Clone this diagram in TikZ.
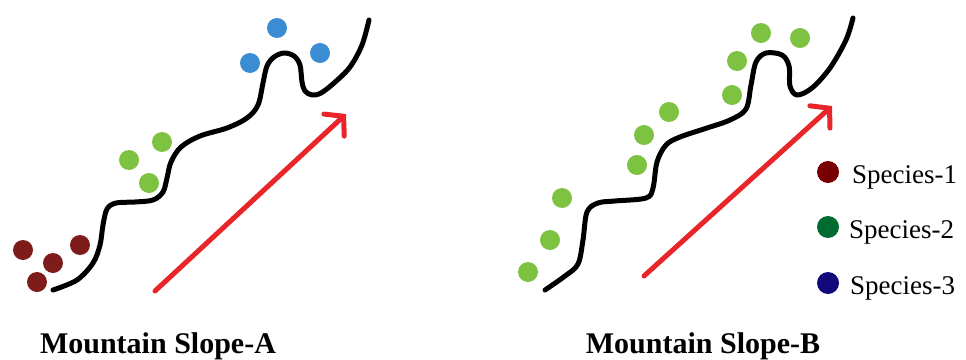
\documentclass[tikz,border=0pt]{standalone}
\usepackage{fontspec}
\setmainfont{Liberation Serif}
\usetikzlibrary{arrows.meta}
\definecolor{sp1}{HTML}{7E1B1B}
\definecolor{sp2}{HTML}{7EC242}
\definecolor{sp3}{HTML}{3A8DD2}
\definecolor{lg1}{HTML}{780000}
\definecolor{lg2}{HTML}{006B30}
\definecolor{lg3}{HTML}{12097A}
\definecolor{climb}{HTML}{E8262A}
\tikzset{
  slope/.style={line width=5pt, line cap=round, line join=round},
  climbarrow/.style={climb, line width=5pt, line cap=round,
    -{Straight Barb[length=13pt, width=30pt, line cap=round]}},
  dot/.style={circle, inner sep=0pt, minimum size=20pt, fill=#1},
  legdot/.style={circle, inner sep=0pt, minimum size=22pt, fill=#1},
  legtext/.style={anchor=base west, inner sep=0pt, font=\fontsize{27}{30}\selectfont},
  title/.style={anchor=base, inner sep=0pt, font=\bfseries\fontsize{30}{33}\selectfont}
}
\begin{document}
\begin{tikzpicture}[x=1pt, y=-1pt]
\useasboundingbox (0,0) rectangle (966,359);

% slope A
\draw[slope] plot[smooth, tension=0.55] coordinates {
  (53,290) (77,280) (93,263) (100,245) (103,225) (107,209) (116,203)
  (135,202) (153,200) (163,192) (167,178) (171,162) (181,147) (200,136)
  (227,128) (247,118) (258,105) (263,83) (267,66) (274,57) (284,53)
  (294,56) (300,65) (302,82) (305,91) (312,95) (321,93) (334,83)
  (350,67) (362,45) (369,20)};
\node[dot=sp1] (a1) at (23,250) {};
\node[dot=sp1] (a2) at (53,263) {};
\node[dot=sp1] (a3) at (80,245) {};
\node[dot=sp1] (a4) at (37,282) {};
\node[dot=sp2] (a5) at (129,160) {};
\node[dot=sp2] (a6) at (162,142) {};
\node[dot=sp2] (a7) at (149,183) {};
\node[dot=sp3] (a8) at (277,28) {};
\node[dot=sp3] (a9) at (250,63) {};
\node[dot=sp3] (a10) at (320,53) {};
\coordinate (ta) at (155,291);
\coordinate (ha) at (346,114);
\draw[climbarrow] (ta) -- (ha);

% slope B
\draw[slope] plot[smooth, tension=0.55] coordinates {
  (545,290) (565,276) (578,264) (583,240) (587,212) (598,203) (615,201)
  (646,198) (653,188) (657,162) (666,145) (680,137) (707,128) (730,120)
  (746,109) (751,85) (756,62) (766,53) (782,55) (789,66) (790,86)
  (797,95) (812,88) (830,68) (846,40) (853,18)};
\node[dot=sp2] (b1) at (528,272) {};
\node[dot=sp2] (b2) at (550,240) {};
\node[dot=sp2] (b3) at (562,198) {};
\node[dot=sp2] (b4) at (637,165) {};
\node[dot=sp2] (b5) at (644,135) {};
\node[dot=sp2] (b6) at (669,112) {};
\node[dot=sp2] (b7) at (732,95) {};
\node[dot=sp2] (b8) at (737,61) {};
\node[dot=sp2] (b9) at (761,33) {};
\node[dot=sp2] (b10) at (800,38) {};
\coordinate (tb) at (644,276);
\coordinate (hb) at (832,106);
\draw[climbarrow] (tb) -- (hb);

% legend
\node[legdot=lg1] (l1) at (828,172) {};
\node[legdot=lg2] (l2) at (828,227) {};
\node[legdot=lg3] (l3) at (828,283) {};
\node[legtext] (t1) at (852,183) {Species-1};
\node[legtext] (t2) at (849,238) {Species-2};
\node[legtext] (t3) at (850,294) {Species-3};

% captions
\node[title] (capa) at (158,353) {Mountain Slope-A};
\node[title] (capb) at (703,353) {Mountain Slope-B};
\end{tikzpicture}
\end{document}
